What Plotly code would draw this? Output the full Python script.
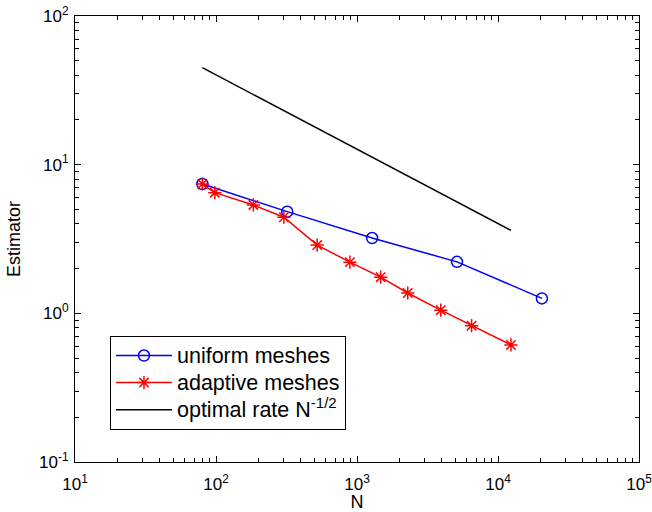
import plotly.graph_objects as go

# data
n_uniform = [80, 320, 1280, 5120, 20480]
e_uniform = [7.41, 4.83, 3.21, 2.22, 1.26]

n_adaptive = [80, 98, 184, 303, 522, 891, 1472, 2290, 3926, 6500, 12360]
e_adaptive = [7.41, 6.48, 5.36, 4.43, 2.88, 2.21, 1.75, 1.37, 1.05, 0.826, 0.613]

n_rate = [80, 12360]
e_rate = [44.9, 3.61]

series_names = ["uniform meshes", "adaptive meshes", "optimal rate N<sup>-1/2</sup>"]

x_tickvals = [10, 100, 1000, 10000, 100000]
x_ticktext = ["10<sup>1</sup>", "10<sup>2</sup>", "10<sup>3</sup>", "10<sup>4</sup>", "10<sup>5</sup>"]
y_tickvals = [0.1, 1, 10, 100]
y_ticktext = ["10<sup>-1</sup>", "10<sup>0</sup>", "10<sup>1</sup>", "10<sup>2</sup>"]

x_minor = [m * d for d in [10, 100, 1000, 10000] for m in range(2, 10)]
y_minor = [m * d for d in [0.1, 1, 10] for m in range(2, 10)]

FONT = "Liberation Sans, Arial, Helvetica, sans-serif"


def big(name):
    return '<span style="font-size:21.5px">' + name + "</span>"


fig = go.Figure()
fig.add_trace(go.Scatter(
    x=n_uniform, y=e_uniform, mode="lines+markers", name=big(series_names[0]),
    line=dict(color="#0000ff", width=1.5),
    marker=dict(symbol="circle-open", size=11, color="#0000ff", line=dict(width=1.5, color="#0000ff")),
))
fig.add_trace(go.Scatter(
    x=n_adaptive, y=e_adaptive, mode="lines+markers", name=big(series_names[1]),
    line=dict(color="#ff0000", width=1.5),
    marker=dict(symbol="asterisk-open", size=11, color="#ff0000", line=dict(width=1.5, color="#ff0000")),
))
fig.add_trace(go.Scatter(
    x=n_rate, y=e_rate, mode="lines", name=big(series_names[2]),
    line=dict(color="#000000", width=1.5),
))

axis_common = dict(
    type="log", showline=True, linecolor="black", linewidth=1, mirror="allticks",
    ticks="inside", ticklen=6, tickcolor="black", tickwidth=1, showgrid=False, zeroline=False,
    automargin=False, ticklabeloverflow="allow",
    tickfont=dict(family=FONT, size=17, color="black"),
)

fig.update_xaxes(
    **axis_common, range=[1, 5], tickvals=x_tickvals, ticktext=x_ticktext,
    ticklabelstandoff=7,
    minor=dict(tickvals=x_minor, ticks="inside", ticklen=4, tickcolor="black", tickwidth=1, showgrid=False),
    title=dict(text="N", font=dict(family=FONT, size=18, color="black"), standoff=5),
)
fig.update_yaxes(
    **axis_common, range=[-1, 2], tickvals=y_tickvals, ticktext=y_ticktext,
    ticklabelstandoff=2,
    minor=dict(tickvals=y_minor, ticks="inside", ticklen=4, tickcolor="black", tickwidth=1, showgrid=False),
    title=dict(text="Estimator", font=dict(family=FONT, size=18, color="black"), standoff=13),
)

fig.update_layout(
    width=652, height=512,
    margin=dict(l=75, r=13, t=16, b=50),
    paper_bgcolor="white", plot_bgcolor="white",
    font=dict(family=FONT, color="black"),
    showlegend=True,
    legend=dict(
        x=0.062, y=0.2825, xanchor="left", yanchor="top",
        bgcolor="white", bordercolor="black", borderwidth=1,
        font=dict(family=FONT, size=18.5, color="black"),
        itemwidth=56, tracegroupgap=0,
    ),
)

fig.write_html("out.html", config={"displayModeBar": False},
               post_script="document.body.style.margin='0';")
